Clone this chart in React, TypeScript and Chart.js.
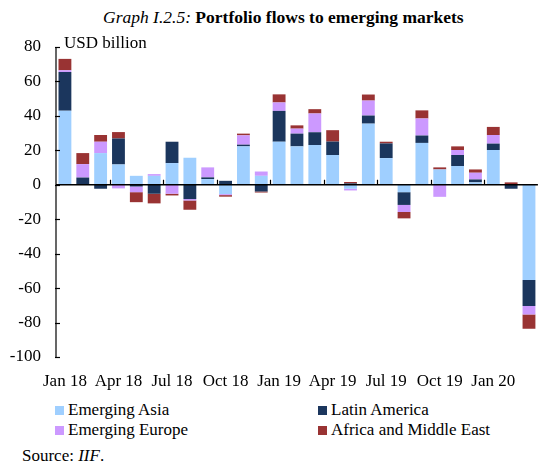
import React, { useEffect, useRef } from "react";
import { Chart, registerables } from "chart.js";

Chart.register(...registerables);

const categories = [
  "Jan 18", "Feb 18", "Mar 18", "Apr 18", "May 18", "Jun 18", "Jul 18", "Aug 18", "Sep 18",
  "Oct 18", "Nov 18", "Dec 18", "Jan 19", "Feb 19", "Mar 19", "Apr 19", "May 19", "Jun 19",
  "Jul 19", "Aug 19", "Sep 19", "Oct 19", "Nov 19", "Dec 19", "Jan 20", "Feb 20", "Mar 20",
];

const emergingAsia = [
  43, 0, 18.4, 11.8, 5.2, 5.2, 12.6, 15.7, 3.3,
  -5.4, 22.3, 5.2, 25, 22.3, 23.1, 17.3, -2.3, 35.5,
  15.5, -4.3, 24.3, 8.9, 10.9, 1.4, 20.2, 0, -55.3,
];
const latinAmerica = [
  22.5, 4.2, -2.3, 15.1, -1, -5.2, 12.4, -8.3, 1,
  2.3, 1, -3.9, 17.9, 7.4, 7.4, 7.8, 0.8, 4.7,
  8.5, -7.4, 4.3, 0, 6.4, 1.7, 3.7, -2.3, -15.1,
];
const emergingEurope = [
  1, 7.8, 6.6, -2.1, -3.3, 1, -5.2, -0.8, 5.8,
  -0.6, 5.4, 2.5, 4.9, 2.9, 10.9, 0, -1, 8.7,
  0, -4.1, 9.9, -7, 2.9, 3.9, 5, 0, -4.9,
];
const africaMiddleEast = [
  6.6, 6.4, 3.9, 3.7, -5.8, -5.6, -1, -5.4, 0,
  -0.9, 1, -0.6, 4.7, 1.9, 2.5, 6.6, 0.8, 3.5,
  1, -3.7, 4.7, 1.2, 2.1, 1.9, 4.7, 1.4, -8.3,
];

const yTicks = [80, 60, 40, 20, 0, -20, -40, -60, -80, -100];

const seriesNames = ["Emerging Asia", "Latin America", "Emerging Europe", "Africa and Middle East"];
const seriesColors = ["#9fcfff", "#1b365d", "#cc99ff", "#993333"];

const FONT = "'Liberation Serif', 'Times New Roman', serif";
const FS = 17;

const axesPlugin = {
  id: "customAxes",
  afterDraw(chart: any) {
    const { ctx, chartArea, scales } = chart;
    const y = scales.y;
    const x = scales.x;
    const left = chartArea.left;
    ctx.save();
    ctx.strokeStyle = "#000";
    ctx.lineWidth = 1.2;
    ctx.beginPath();
    ctx.moveTo(left, y.getPixelForValue(80));
    ctx.lineTo(left, y.getPixelForValue(-100));
    ctx.stroke();
    yTicks.forEach((v) => {
      const py = Math.round(y.getPixelForValue(v)) + 0.5;
      ctx.beginPath();
      ctx.moveTo(left - 1, py);
      ctx.lineTo(left + 4, py);
      ctx.stroke();
    });
    const zy = y.getPixelForValue(0);
    ctx.lineWidth = 1.6;
    ctx.beginPath();
    ctx.moveTo(left, zy);
    ctx.lineTo(chartArea.right, zy);
    ctx.stroke();
    ctx.lineWidth = 1.2;
    const step = (chartArea.right - chartArea.left) / categories.length;
    for (let i = 3; i < categories.length; i += 3) {
      const px = Math.round(x.getPixelForValue(i) - step / 2) + 0.5;
      ctx.beginPath();
      ctx.moveTo(px, zy);
      ctx.lineTo(px, zy - 5);
      ctx.stroke();
    }
    ctx.fillStyle = "#000";
    ctx.font = `${FS}px ${FONT}`;
    ctx.textAlign = "left";
    ctx.textBaseline = "middle";
    ctx.fillText("USD billion", left + 8, y.getPixelForValue(80) - 3);
    ctx.restore();
  },
};

export default function App() {
  const canvasRef = useRef<HTMLCanvasElement | null>(null);

  useEffect(() => {
    if (!canvasRef.current) return;
    const data = [emergingAsia, latinAmerica, emergingEurope, africaMiddleEast];
    const chart = new Chart(canvasRef.current, {
      type: "bar",
      data: {
        labels: categories,
        datasets: seriesNames.map((name, i) => ({
          label: name,
          data: data[i],
          backgroundColor: seriesColors[i],
          borderWidth: 0,
          categoryPercentage: 1,
          barPercentage: 0.72,
        })),
      },
      options: {
        animation: false,
        responsive: false,
        maintainAspectRatio: false,
        layout: { padding: { top: 47, right: 1, left: 0, bottom: 0 } },
        plugins: {
          legend: { display: false },
          tooltip: { enabled: false },
        },
        scales: {
          x: {
            stacked: true,
            grid: { display: false, drawTicks: false },
            border: { display: false },
            ticks: {
              autoSkip: false,
              maxRotation: 0,
              minRotation: 0,
              padding: 14,
              color: "#000",
              font: { family: FONT, size: FS },
              callback: (_v: any, i: number) => (i % 3 === 0 ? categories[i] : ""),
            },
            afterFit: (s: any) => {
              s.height = 43;
            },
          },
          y: {
            stacked: true,
            min: -100,
            max: 80,
            grid: { display: false, drawTicks: false },
            border: { display: false },
            ticks: {
              stepSize: 20,
              padding: 15,
              color: "#000",
              font: { family: FONT, size: FS },
            },
            afterFit: (s: any) => {
              s.width = 56;
            },
          },
        },
      },
      plugins: [axesPlugin],
    });
    return () => chart.destroy();
  }, []);

  const legendItem = (i: number, left: number, top: number) => (
    <div
      key={i}
      style={{
        position: "absolute",
        left,
        top,
        height: 20,
        display: "flex",
        alignItems: "center",
        fontFamily: FONT,
        fontSize: FS,
        color: "#000",
        whiteSpace: "nowrap",
      }}
    >
      <span
        style={{
          display: "inline-block",
          width: 9,
          height: 9,
          background: seriesColors[i],
          marginRight: 4,
        }}
      />
      {seriesNames[i]}
    </div>
  );

  return (
    <div
      style={{
        position: "fixed",
        left: 0,
        top: 0,
        width: 543,
        height: 464,
        background: "#fff",
        overflow: "hidden",
      }}
    >
      <div
        style={{
          position: "absolute",
          left: 103,
          top: 7,
          fontFamily: FONT,
          fontSize: 17.5,
          whiteSpace: "nowrap",
          color: "#000",
        }}
      >
        <i>Graph I.2.5:</i> <b>Portfolio flows to emerging markets</b>
      </div>
      <canvas
        ref={canvasRef}
        width={543}
        height={400}
        style={{ position: "absolute", left: 0, top: 0, width: 543, height: 400 }}
      />
      {legendItem(0, 55, 400)}
      {legendItem(1, 318, 400)}
      {legendItem(2, 55, 420)}
      {legendItem(3, 318, 420)}
      <div
        style={{
          position: "absolute",
          left: 22,
          top: 446,
          height: 20,
          fontFamily: FONT,
          fontSize: FS,
          color: "#000",
          whiteSpace: "nowrap",
        }}
      >
        Source: <i>IIF</i>.
      </div>
    </div>
  );
}
